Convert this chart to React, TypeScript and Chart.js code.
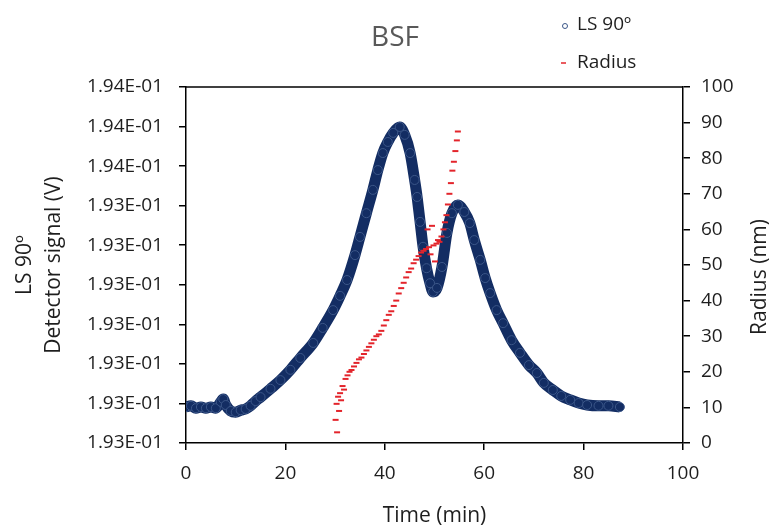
import React, { useEffect, useRef } from 'react';
import { Chart, registerables } from 'chart.js';

Chart.register(...registerables);

const FONT = '"Open Sans", "DejaVu Sans", sans-serif';

const chartTitle = 'BSF';
const xAxisTitle = 'Time (min)';
const leftAxisTitle = ['LS 90º', 'Detector signal (V)'];
const rightAxisTitle = 'Radius (nm)';
const seriesNames = ['LS 90º', 'Radius'];

const leftTickLabels = [
  '1.93E-01', '1.93E-01', '1.93E-01', '1.93E-01', '1.93E-01',
  '1.93E-01', '1.93E-01', '1.94E-01', '1.94E-01', '1.94E-01',
];
const rightTickLabels = ['0', '10', '20', '30', '40', '50', '60', '70', '80', '90', '100'];
const xTickLabels = ['0', '20', '40', '60', '80', '100'];

// LS 90º detector signal (V) vs time (min)
const lsTime = [
  0, 1, 2, 3, 4, 5, 6, 7, 7.5, 8, 9, 10, 11, 12, 13, 14, 15, 17, 19, 21, 23,
  25.6, 27.5, 29.6, 31, 32.4, 34, 35, 36.3, 37.6, 38.6, 39.6, 40.6, 41.7, 43,
  44, 45.1, 46, 46.5, 47.1, 47.7, 48.4, 49.1, 49.7, 50.5, 51.5, 52.5, 53.5,
  54.7, 56, 57.1, 58, 59.2, 60.2, 61.2, 62.5, 63.8, 65.5, 67.2, 69, 70.6, 72,
  73.8, 75.5, 77.3, 79, 80.7, 83, 85, 87.3,
];
const lsSignal = [
  0.192891, 0.192894, 0.192888, 0.192891, 0.192888, 0.192891, 0.192888,
  0.192904, 0.192911, 0.192896, 0.192881, 0.192878, 0.192883, 0.192886,
  0.192894, 0.192906, 0.192916, 0.192937, 0.192959, 0.192985, 0.193015,
  0.193053, 0.193091, 0.193136, 0.193172, 0.193212, 0.193275, 0.193321,
  0.193381, 0.19344, 0.19349, 0.193533, 0.193561, 0.193584, 0.193599,
  0.193579, 0.193533, 0.193465, 0.193422, 0.193359, 0.193296, 0.193242,
  0.193204, 0.193182, 0.193192, 0.193245, 0.193331, 0.193381, 0.193402,
  0.193384, 0.193356, 0.193313, 0.193263, 0.193217, 0.193179, 0.193136,
  0.193103, 0.19306, 0.193028, 0.192997, 0.192977, 0.192952, 0.192934,
  0.192919, 0.192909, 0.192901, 0.192896, 0.192894, 0.192894, 0.192891,
];

// Radius (nm) vs time (min)
const radiusTime = [
  30.1, 30.3, 30.4, 30.6, 30.8, 31.0, 31.2, 31.5, 31.8, 32.1, 32.5, 32.9, 33.3,
  33.8, 34.3, 34.8, 35.3, 35.8, 36.3, 36.8, 37.3, 37.8, 38.3, 38.8, 39.3, 39.8,
  40.3, 40.8, 41.3, 41.8, 42.3, 42.8, 43.3, 43.8, 44.3, 44.8, 45.3, 45.8, 46.3,
  46.8, 47.3, 47.8, 48.3, 48.6, 48.9, 49.2, 49.5, 49.8, 50.1, 50.4, 50.7, 51.0,
  51.4, 51.8, 52.1, 52.4, 52.7, 53.0, 53.3, 53.6, 53.9, 54.2, 54.5, 54.7,
];
const radiusValue = [
  6.5, 11, 3, 13, 9, 14, 12, 16, 15, 18, 19, 20, 20.5, 21.5, 22.5, 23.5, 24, 25,
  26, 27, 28, 29, 30, 30.5, 31.5, 33, 34.5, 36, 37, 38.5, 40, 42, 43.5, 45, 46.5,
  48, 49, 50.5, 51.5, 52.5, 53.5, 54, 54.5, 60, 55, 53, 61, 55.5, 51, 56, 57,
  56.5, 58, 60, 62, 64, 67, 70, 73, 76.5, 79, 82, 85, 87.5,
];

const NAVY = '#132d63';
const NAVY_EDGE = '#3b5688';
const RED = '#e3242b';
const TEXT = '#1e1e1e';

const overlayPlugin = {
  id: 'overlay',
  afterDraw(chart: any) {
    const { ctx, chartArea } = chart;
    ctx.save();
    // top frame line
    ctx.strokeStyle = '#000';
    ctx.lineWidth = 1.5;
    ctx.beginPath();
    ctx.moveTo(chartArea.left, chartArea.top);
    ctx.lineTo(chartArea.right, chartArea.top);
    ctx.stroke();

    // chart title
    ctx.fillStyle = '#595959';
    ctx.font = `28px ${FONT}`;
    ctx.textAlign = 'center';
    ctx.textBaseline = 'middle';
    ctx.fillText(chartTitle, 395, 38);

    // legend
    ctx.font = `19px ${FONT}`;
    ctx.textAlign = 'left';
    ctx.fillStyle = TEXT;
    ctx.fillText(seriesNames[0], 577, 25);
    ctx.fillText(seriesNames[1], 577, 63);
    ctx.strokeStyle = NAVY_EDGE;
    ctx.lineWidth = 1;
    ctx.beginPath();
    ctx.arc(565, 26, 2.5, 0, Math.PI * 2);
    ctx.stroke();
    ctx.strokeStyle = RED;
    ctx.lineWidth = 1.5;
    ctx.beginPath();
    ctx.moveTo(561, 63);
    ctx.lineTo(566, 63);
    ctx.stroke();

    // right axis title (reads bottom to top)
    ctx.fillStyle = TEXT;
    ctx.font = `21px ${FONT}`;
    ctx.textAlign = 'center';
    ctx.translate(760, (chartArea.top + chartArea.bottom) / 2 + 12);
    ctx.rotate(-Math.PI / 2);
    ctx.fillText(rightAxisTitle, 0, 0);
    ctx.restore();
  },
};

export default function App() {
  const canvasRef = useRef<HTMLCanvasElement | null>(null);

  useEffect(() => {
    if (!canvasRef.current) return;
    const lsData = lsTime.map((t, i) => ({ x: t, y: lsSignal[i] }));
    const radiusData = radiusTime.map((t, i) => ({ x: t, y: radiusValue[i] }));

    const chart = new Chart(canvasRef.current, {
      type: 'scatter',
      data: {
        datasets: [
          {
            label: seriesNames[1],
            data: radiusData,
            yAxisID: 'yR',
            order: 0,
            showLine: false,
            pointStyle: 'line',
            pointRadius: 3,
            pointBorderWidth: 2,
            borderColor: RED,
            backgroundColor: RED,
          },
          {
            label: seriesNames[0],
            data: lsData,
            yAxisID: 'yL',
            order: 1,
            showLine: true,
            cubicInterpolationMode: 'monotone',
            borderColor: NAVY,
            borderWidth: 11,
            pointStyle: 'circle',
            pointRadius: 4.5,
            pointBorderWidth: 1,
            pointBorderColor: NAVY_EDGE,
            pointBackgroundColor: NAVY,
          },
        ],
      },
      plugins: [overlayPlugin],
      options: {
        animation: false,
        responsive: true,
        maintainAspectRatio: false,
        layout: { padding: { top: 87, left: 0, right: 0, bottom: 0 } },
        plugins: {
          legend: { display: false },
          title: { display: false },
          tooltip: { enabled: false },
        },
        scales: {
          x: {
            type: 'linear',
            position: 'bottom',
            min: 0,
            max: 100,
            afterFit: (s: any) => { s.height = 84; },
            border: { display: true, color: '#000', width: 1.5 },
            grid: { drawOnChartArea: false, drawTicks: true, tickLength: 7, color: '#000', lineWidth: 1.5 },
            ticks: {
              stepSize: 20,
              padding: 12,
              color: TEXT,
              font: { family: FONT, size: 19 },
              callback: (_v: any, i: number) => xTickLabels[i],
            },
            title: {
              display: true,
              text: xAxisTitle,
              color: TEXT,
              font: { family: FONT, size: 21 },
              padding: { top: 0, bottom: -2 },
            },
          },
          yL: {
            type: 'linear',
            position: 'left',
            min: 0.1928,
            max: 0.1937,
            afterFit: (s: any) => { s.width = 186; },
            border: { display: true, color: '#000', width: 1.5 },
            grid: { drawOnChartArea: false, drawTicks: true, tickLength: 7, color: '#000', lineWidth: 1.5 },
            ticks: {
              stepSize: 0.0001,
              padding: 16,
              color: TEXT,
              font: { family: FONT, size: 19 },
              callback: (_v: any, i: number) => leftTickLabels[i],
            },
            title: {
              display: true,
              text: leftAxisTitle,
              color: TEXT,
              font: { family: FONT, size: 21, lineHeight: 1.4 },
              padding: { top: 10, bottom: 0 },
            },
          },
          yR: {
            type: 'linear',
            position: 'right',
            min: 0,
            max: 100,
            afterFit: (s: any) => { s.width = 95; },
            border: { display: true, color: '#000', width: 1.5 },
            grid: { drawOnChartArea: false, drawTicks: true, tickLength: 7, color: '#000', lineWidth: 1.5 },
            ticks: {
              stepSize: 10,
              padding: 11,
              color: TEXT,
              font: { family: FONT, size: 19 },
              callback: (_v: any, i: number) => rightTickLabels[i],
            },
          },
        },
      },
    } as any);

    return () => chart.destroy();
  }, []);

  return (
    <div style={{ position: 'fixed', left: 0, top: 0, width: 778, height: 527, background: '#fff' }}>
      <canvas ref={canvasRef} />
    </div>
  );
}
